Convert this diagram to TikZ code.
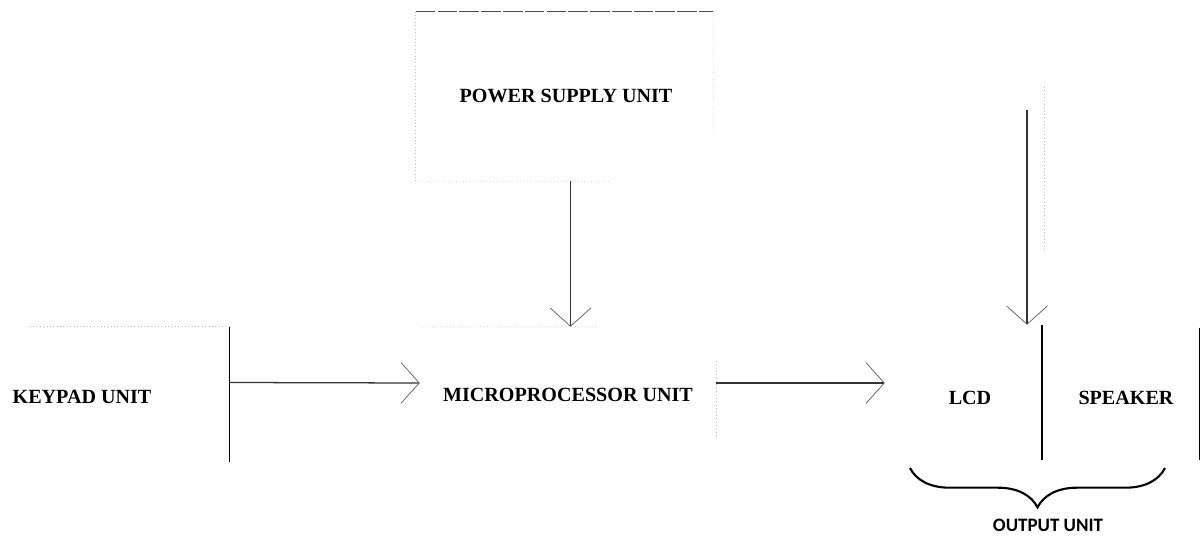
\documentclass[tikz,border=0pt]{standalone}
\usepackage{fontspec}
\setmainfont{Liberation Serif}
\newfontfamily\outfont{Carlito}
\usetikzlibrary{arrows.meta,calc,fit,decorations.pathreplacing}
\tikzset{
  boxarea/.style={inner sep=0pt, draw=none},
  lbl/.style={font=\fontsize{14.3}{17}\selectfont\bfseries, inner sep=0pt},
  darkedge/.style={draw=black, line width=0.9pt},
  dashedge/.style={draw=black!70, line width=0.7pt, dash pattern=on 14pt off 1.5pt},
  faintedge/.style={draw=black!25, line width=0.4pt, dotted},
  conn/.style={draw=black!80, line width=0.9pt,
    -{Straight Barb[length=13pt, width=29pt, line width=0.5pt, color=black!65]}},
}
\begin{document}
\begin{tikzpicture}[x=0.025cm, y=-0.025cm]
\useasboundingbox (0,0) rectangle (1202,537);

% box areas
\node[boxarea, fit={(30,327) (229,462)}] (kp) {};
\node[boxarea, fit={(416,12) (713,181)}] (psu) {};
\node[boxarea, fit={(420,327) (716,463)}] (micro) {};
\node[boxarea, fit={(885,325) (1199,460)}] (out) {};

% labels
\node[lbl] (kptxt) at (82,397) {KEYPAD UNIT};
\node[lbl] (psutxt) at (566,96) {POWER SUPPLY UNIT};
\node[lbl] (microtxt) at (568,395) {MICROPROCESSOR UNIT};
\node[lbl] (lcd) at (970,398) {LCD};
\node[lbl] (spk) at (1126,398) {SPEAKER};
\node[font=\outfont\fontsize{13.5}{16}\selectfont\bfseries, inner sep=0pt] (outtxt) at (1048,525) {OUTPUT UNIT};

% visible box edges
\draw[faintedge] (kp.north west) -- (kp.north east);
\draw[darkedge] (kp.north east) -- (kp.south east);

\draw[dashedge] (psu.north west) -- (psu.north east);
\draw[faintedge] (psu.north west) -- (psu.south west);
\draw[faintedge] (psu.north east) -- ($(psu.north east)!0.7!(psu.south east)$);
\draw[faintedge] (psu.south west) -- ($(psu.south west)!0.65!(psu.south east)$);

\draw[faintedge] (micro.north west) -- ($(micro.north west)!0.6!(micro.north east)$);
\draw[faintedge] ($(micro.north east)!0.25!(micro.south east)$) -- ($(micro.north east)!0.8!(micro.south east)$);

\coordinate (divtop) at ($(out.north west)!0.5!(out.north east)+(0,0)$);
\coordinate (dtop) at (1042,325);
\draw[darkedge] (dtop) -- (dtop |- out.south);
\draw[darkedge] ($(out.north east)+(0,3)$) -- (out.south east);

\coordinate (ghost) at (1044,87);
\draw[faintedge] (ghost) -- ($(ghost)+(0,163)$);

% connectors
\draw[conn] ($(kp.east)+(0,-12)$) -- ($(micro.west)+(0,-12)$);
\coordinate (m1) at ($(micro.east)+(0,-12)$);
\draw[conn] (m1) -- (m1 -| out.west);
\coordinate (p1) at ($(psu.south)+(6,0)$);
\draw[conn] (p1) -- (p1 |- micro.north);
\coordinate (src) at (1027,110);
\draw[conn] (src) -- (src |- out.north);

% brace
\draw[decorate, decoration={brace, mirror, amplitude=28pt}, line width=1.5pt]
  (910,468) -- (1165,468);
\end{tikzpicture}
\end{document}
